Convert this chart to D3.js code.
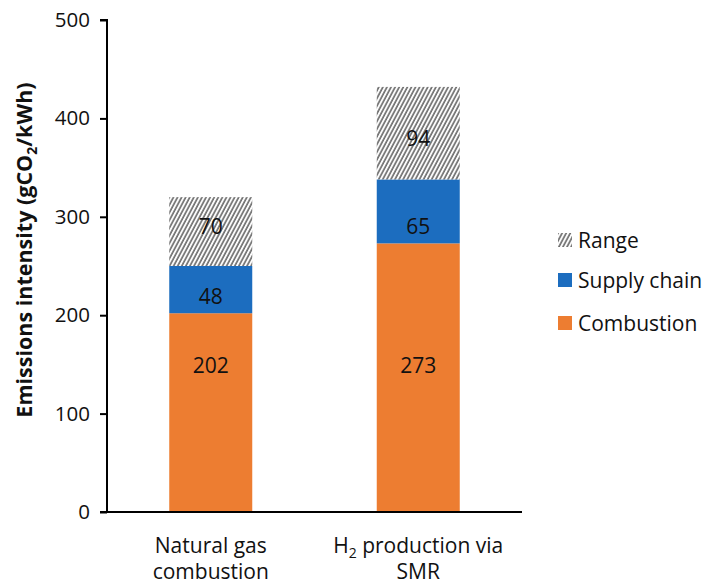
<!DOCTYPE html>
<html>
<head>
<meta charset="utf-8">
<script src="https://cdn.jsdelivr.net/npm/d3@7"></script>
<style>
  body { margin: 0; background: #fff; }
  text { font-family: "Open Sans", "Noto Sans", sans-serif; }
</style>
</head>
<body>
<svg id="chart" width="708" height="584"></svg>
<script>
const categories = ["Natural gas combustion", "H2 production via SMR"];
const combustion = [202, 273];
const supplyChain = [48, 65];
const rangeVals = [70, 94];
const yTicks = [0, 100, 200, 300, 400, 500];
const seriesNames = ["Range", "Supply chain", "Combustion"];

// label anchor heights (in data units) as placed in the original figure
const labelAnchors = {
  "Combustion": [149, 149],
  "Supply chain": [219, 290],
  "Range": [290, 380]
};

const svg = d3.select("#chart");
const pLeft = 107, pRight = 522, pTop = 20, pBottom = 512;

const x = d3.scaleBand().domain(categories).range([pLeft, pRight]).paddingInner(0.6).paddingOuter(0.3);
const y = d3.scaleLinear().domain([0, 500]).range([pBottom, pTop]);

const defs = svg.append("defs");
const pat = defs.append("pattern").attr("id", "hatch").attr("patternUnits", "userSpaceOnUse")
  .attr("width", 3.6).attr("height", 3.6).attr("patternTransform", "rotate(28)");
pat.append("rect").attr("width", 3.6).attr("height", 3.6).attr("fill", "#fff");
pat.append("line").attr("x1", 1).attr("y1", 0).attr("x2", 1).attr("y2", 3.6)
  .attr("stroke", "#6f6f6f").attr("stroke-width", 1.7);

const colors = { "Range": "url(#hatch)", "Supply chain": "#1c6dbf", "Combustion": "#ed7d31" };

const rows = categories.map((c, i) => ({ cat: c, idx: i, Combustion: combustion[i], "Supply chain": supplyChain[i], Range: rangeVals[i] }));
const stack = d3.stack().keys(["Combustion", "Supply chain", "Range"])(rows);

stack.forEach(layer => {
  const g = svg.append("g");
  g.selectAll("rect").data(layer).join("rect")
    .attr("x", d => x(d.data.cat))
    .attr("width", x.bandwidth())
    .attr("y", d => y(d[1]))
    .attr("height", d => y(d[0]) - y(d[1]))
    .attr("fill", colors[layer.key]);
  g.selectAll("text").data(layer).join("text")
    .attr("x", d => x(d.data.cat) + x.bandwidth() / 2)
    .attr("y", d => y(labelAnchors[layer.key][d.data.idx]))
    .attr("dy", "0.36em")
    .attr("text-anchor", "middle")
    .attr("font-size", 21)
    .attr("fill", "#111")
    .text(d => d[1] - d[0]);
});

// Y axis
const yAxis = svg.append("g").attr("transform", `translate(${pLeft},0)`)
  .call(d3.axisLeft(y).tickValues(yTicks).tickSize(7).tickPadding(10));
yAxis.select(".domain").attr("stroke", "#000").attr("stroke-width", 2).attr("d", `M-7,${pTop}H0V${pBottom}`);
yAxis.selectAll(".tick line").attr("stroke", "#000").attr("stroke-width", 2);
yAxis.selectAll(".tick text").attr("font-size", 20.5).attr("fill", "#111")
  .style("font-family", "'Open Sans', sans-serif");

// X axis
const xAxis = svg.append("g").attr("transform", `translate(0,${pBottom})`)
  .call(d3.axisBottom(x).tickSize(0).tickFormat(""));
xAxis.select(".domain").attr("stroke", "#000").attr("stroke-width", 2).attr("d", `M${pLeft - 7},0H${pRight}`);

// X labels
const xl = svg.append("g");
const cx1 = x(categories[0]) + x.bandwidth() / 2;
const t1 = xl.append("text").attr("text-anchor", "middle").attr("font-size", 21).attr("fill", "#111");
t1.append("tspan").attr("x", cx1).attr("y", 553).text("Natural gas");
t1.append("tspan").attr("x", cx1).attr("y", 579).text("combustion");
const cx2 = x(categories[1]) + x.bandwidth() / 2;
const t2 = xl.append("text").attr("text-anchor", "middle").attr("font-size", 21).attr("fill", "#111");
const l1 = t2.append("tspan").attr("x", cx2).attr("y", 553);
l1.append("tspan").text("H");
l1.append("tspan").attr("font-size", 14).attr("dy", 5).text("2");
l1.append("tspan").attr("dy", -5).text(" production via");
t2.append("tspan").attr("x", cx2).attr("y", 579).text("SMR");

// Y title
const yt = svg.append("text").attr("transform", `translate(32,250) rotate(-90)`)
  .attr("text-anchor", "middle").attr("font-size", 21.5).attr("font-weight", "bold").attr("fill", "#111");
yt.append("tspan").text("Emissions intensity (gCO");
yt.append("tspan").attr("font-size", 14).attr("dy", 5).text("2");
yt.append("tspan").attr("dy", -5).text("/kWh)");

// Legend
const leg = svg.append("g");
const legY = [240, 280, 323];
seriesNames.forEach((n, i) => {
  leg.append("rect").attr("x", 558).attr("y", legY[i] - 7).attr("width", 14).attr("height", 14).attr("fill", colors[n]);
  leg.append("text").attr("x", 578).attr("y", legY[i]).attr("dy", "0.36em")
    .attr("font-size", 21).attr("fill", "#111").text(n);
});
</script>
</body>
</html>
